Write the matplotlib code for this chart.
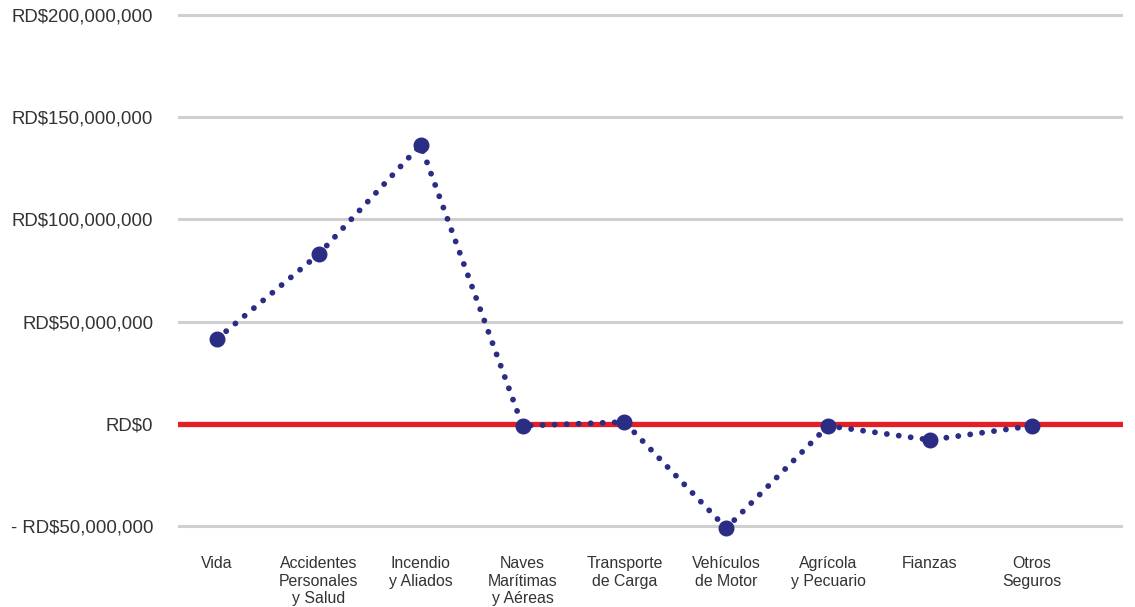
import matplotlib.pyplot as plt
from matplotlib.ticker import FuncFormatter

plt.rcParams['font.family'] = ['Liberation Sans', 'DejaVu Sans']

# Categories (ramos) and values [RD$]
ramos = ['Vida', 'Accidentes\nPersonales\ny Salud', 'Incendio\ny Aliados',
         'Naves\nMarítimas\ny Aéreas', 'Transporte\nde Carga', 'Vehículos\nde Motor',
         'Agrícola\ny Pecuario', 'Fianzas', 'Otros\nSeguros']
valores = [41.5e6, 83.0e6, 136.5e6, -1.1e6, 0.8e6, -51.2e6, -1.1e6, -8.0e6, -1.1e6]
y_ticks = [-50e6, 0, 50e6, 100e6, 150e6, 200e6]

navy = '#2b2d84'
red = '#e31e24'
txt = '#333333'

def fmt(v, pos):
    if v < 0:
        return '- RD${:,.0f}'.format(-v)
    return 'RD${:,.0f}'.format(v)

fig = plt.figure(figsize=(11.35, 6.07), dpi=100)
ax = fig.add_axes([0.157, 0.1272, 0.832, 0.8544])

x = list(range(len(ramos)))

# grid lines
for t in y_ticks:
    if t == 0:
        continue
    ax.axhline(t, color='#d0d0d0', lw=2.2, zorder=1)
ax.axhline(0, color=red, lw=3.8, zorder=2)

# dotted series + markers
ax.plot(x, valores, color=navy, lw=4.2, linestyle=(0, (0.01, 2.05)),
        dash_capstyle='round', zorder=3, clip_on=False)
ax.plot(x, valores, 'o', color=navy, ms=10.5, zorder=4, clip_on=False)

ax.set_xlim(-0.38, 8.89)
ax.set_ylim(-52e6, 202e6)
ax.set_yticks(y_ticks)
ax.yaxis.set_major_formatter(FuncFormatter(fmt))
ax.set_xticks(x)
ax.set_xticklabels(ramos, fontsize=11.4, color=txt, linespacing=1.22)
ax.tick_params(axis='y', labelsize=13.4, labelcolor=txt, length=0, pad=18)
ax.tick_params(axis='x', length=0, pad=19)
for s in ax.spines.values():
    s.set_visible(False)

fig.savefig('out.png', dpi=100)
